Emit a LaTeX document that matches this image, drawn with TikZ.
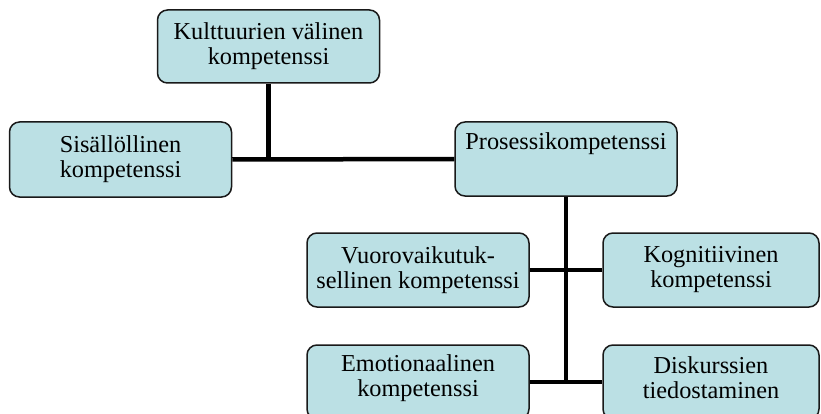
\documentclass[tikz,border=0pt]{standalone}
\usepackage{fontspec}
\setmainfont{Liberation Serif}
\definecolor{boxfill}{RGB}{187,224,228}
\definecolor{boxline}{RGB}{25,25,25}
\tikzset{
  compbox/.style={draw=boxline, line width=1.5pt, fill=boxfill, rounded corners=10pt,
    minimum width=222pt, minimum height=74pt, inner sep=0pt, align=center,
    font=\fontsize{24.3}{25}\selectfont},
  link/.style={line width=4.5pt, black}
}
\begin{document}
\begin{tikzpicture}[x=1pt,y=-1pt]
      \useasboundingbox (0,0) rectangle (821,414);
      \clip (0,0) rectangle (821,414);
      \node[compbox, minimum height=73pt] (kult) at (268.5,46.5) {Kulttuurien välinen\\kompetenssi};
      \node[compbox, minimum height=75pt] (sis) at (120.5,159.5) {Sisällöllinen\\kompetenssi};
      \node[compbox] (pros) at (566,159) {};
      \node[anchor=base, font=\fontsize{24.3}{25}\selectfont] (prostext) at (566,150) {Prosessikompetenssi};
      \node[compbox] (vuoro) at (418,270) {Vuorovaikutuk-\\sellinen kompetenssi};
      \node[compbox, minimum width=216pt] (kogn) at (711,270) {Kognitiivinen\\kompetenssi};
      \node[compbox, minimum height=74pt] (emo) at (418,382) {};
      \node[font=\fontsize{24.3}{25}\selectfont, align=center] (emotext) at (418,378) {Emotionaalinen\\kompetenssi};
      \node[compbox, minimum width=216pt] (disk) at (711,382) {};
      \node[font=\fontsize{24.3}{25}\selectfont, align=center] (disktext) at (711,378) {Diskurssien\\tiedostaminen};
      \begin{scope}[link]
        \draw (sis.east) -- (pros.west);
        \draw (kult.south) -- (kult.south |- sis.east);
        \draw (vuoro.east) -- (kogn.west);
        \draw (emo.east) -- (disk.west);
        \draw (pros.south) -- (pros.south |- emo.east);
      \end{scope}
    \end{tikzpicture}
\end{document}
